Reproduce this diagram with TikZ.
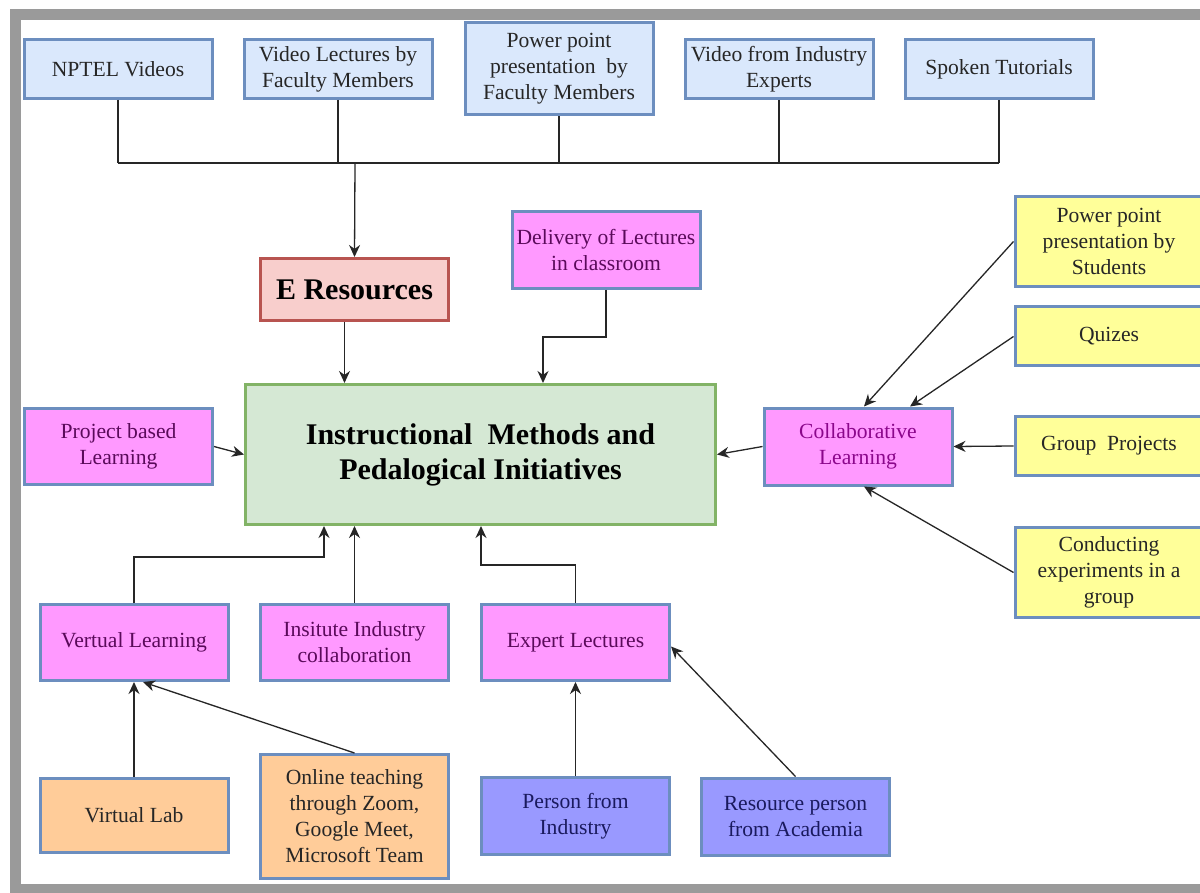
\documentclass[tikz,border=0pt]{standalone}
\usepackage{fontspec}
\setmainfont{Liberation Serif}
\usetikzlibrary{arrows.meta}

\definecolor{frameGray}{HTML}{9A9A9A}
\definecolor{edgeBlue}{HTML}{6C8EBF}
\definecolor{fillBlue}{HTML}{DAE8FC}
\definecolor{fillPink}{HTML}{FF99FF}
\definecolor{textPink}{HTML}{5A0A5A}
\definecolor{fillYellow}{HTML}{FFFF99}
\definecolor{fillOrange}{HTML}{FFCC99}
\definecolor{fillViolet}{HTML}{9999FF}
\definecolor{textViolet}{HTML}{1A1A5E}
\definecolor{fillRed}{HTML}{F8CECC}
\definecolor{edgeRed}{HTML}{B85450}
\definecolor{fillGreen}{HTML}{D5E8D4}
\definecolor{edgeGreen}{HTML}{82B366}

\tikzset{
  box/.style={draw=edgeBlue, line width=1.5pt, minimum width=94pt, minimum height=29.5pt,
    align=center, inner sep=1pt, text=black!85, font=\fontsize{10.8}{13}\selectfont},
  eresbox/.style={box, fill=fillBlue},
  methbox/.style={box, fill=fillPink, text=textPink, minimum height=38pt},
  collabbox/.style={box, fill=fillYellow},
  toolbox/.style={box, fill=fillOrange},
  personbox/.style={box, fill=fillViolet, text=textViolet, minimum height=38.5pt},
  link/.style={line width=0.65pt, black!85},
}

\begin{document}
\begin{tikzpicture}[x=0.5pt,y=-0.5pt,>={Stealth[length=6pt,width=5.5pt]}]
    \useasboundingbox (0,0) rectangle (1200,893);
    % draw the frame
    \fill[white] (0,0) rectangle (1200,893);
    \draw[frameGray, line width=5.5pt] (15,15) rectangle (1220,889);

    % top row: e resources
    \node[eresbox] (nptel) at (118,69) {NPTEL Videos};
    \node[eresbox] (vidfac) at (338,69) {Video Lectures by\\Faculty Members};
    \node[eresbox, minimum height=46pt] (pptfac) at (559,69) {Power point\\presentation\ \ by\\Faculty Members};
    \node[eresbox] (vidind) at (779,69) {Video from Industry\\Experts};
    \node[eresbox] (spoken) at (999,69) {Spoken Tutorials};

    % centre
    \node[box, fill=fillRed, draw=edgeRed, minimum height=31pt, text=black,
      font=\fontsize{15}{17.5}\selectfont\bfseries] (eres) at (354.5,289.5) {E Resources};
    \node[methbox, minimum height=38.5pt] (deliv) at (606,250) {Delivery of Lectures\\in classroom};
    \node[box, fill=fillGreen, draw=edgeGreen, minimum width=235pt, minimum height=70pt, text=black,
      font=\fontsize{15}{17.5}\selectfont\bfseries] (main) at (480.5,454.5) {Instructional\ \ Methods and\\Pedalogical Initiatives};
    \node[methbox] (proj) at (118.5,446.5) {Project based\\Learning};
    \node[methbox, minimum height=38.5pt, text=textPink!70!magenta] (collab) at (858,446.5) {Collaborative\\Learning};

    % right column
    \node[collabbox, minimum height=45pt] (pptstu) at (1109,241.5) {Power point\\presentation by\\Students};
    \node[collabbox] (quiz) at (1109,336.5) {Quizes};
    \node[collabbox] (group) at (1109,446) {Group\ \ Projects};
    \node[collabbox, minimum height=45pt] (conduct) at (1109,572.5) {Conducting\\experiments in a\\group};

    % bottom rows
    \node[methbox] (vl) at (134,642.5) {Vertual Learning};
    \node[methbox] (iic) at (354.5,642.5) {Insitute Industry\\collaboration};
    \node[methbox] (expert) at (575.5,642.5) {Expert Lectures};
    \node[toolbox, minimum height=37pt] (vlab) at (134,815) {Virtual Lab};
    \node[toolbox, minimum height=62pt] (online) at (354.5,816.5) {Online teaching\\through Zoom,\\Google Meet,\\Microsoft Team};
    \node[personbox] (person) at (575.5,816) {Person from\\Industry};
    \node[personbox] (respers) at (795.5,816.5) {Resource person\\from Academia};

    % top bus
    \coordinate (bus) at (355,163);
    \foreach \src in {nptel,vidfac,pptfac,vidind,spoken}
        \draw[link] (\src.south) -- (\src.south |- bus);
    \draw[link] (nptel.south |- bus) -- (spoken.south |- bus);
    \draw[link,->] (bus) -- (eres.north);

    % into the main box
    \coordinate (dk) at (543,337);
    \coordinate (vk) at (324,557);
    \coordinate (ek) at (481,565);
    \draw[link,->] ([xshift=-5pt]eres.south) -- ([xshift=-5pt]eres.south |- main.north);
    \draw[link,->] (deliv.south) |- (dk) -- (dk |- main.north);
    \draw[link,->] (proj.east) -- (main.west);
    \draw[link,->] (collab.west) -- (main.east);
    \draw[link,->] (vl.north) |- (vk) -- (vk |- main.south);
    \draw[link,->] (iic.north) -- (iic.north |- main.south);
    \draw[link,->] (expert.north) |- (ek) -- (ek |- main.south);

    % into collaborative learning
    \draw[link,->] (pptstu.west) -- ([xshift=3pt]collab.north);
    \draw[link,->] (quiz.west) -- ([xshift=26pt]collab.north);
    \draw[link,->] (group.west) -- (collab.east);
    \draw[link,->] (conduct.west) -- ([xshift=3pt]collab.south);

    % lower sources
    \draw[link,->] (vlab.north) -- (vl.south);
    \draw[link,->] (online.north) -- ([xshift=4.5pt]vl.south);
    \draw[link,->] (person.north) -- (expert.south);
    \draw[link,->] (respers.north) -- ([yshift=-2pt]expert.east);
\end{tikzpicture}
\end{document}
